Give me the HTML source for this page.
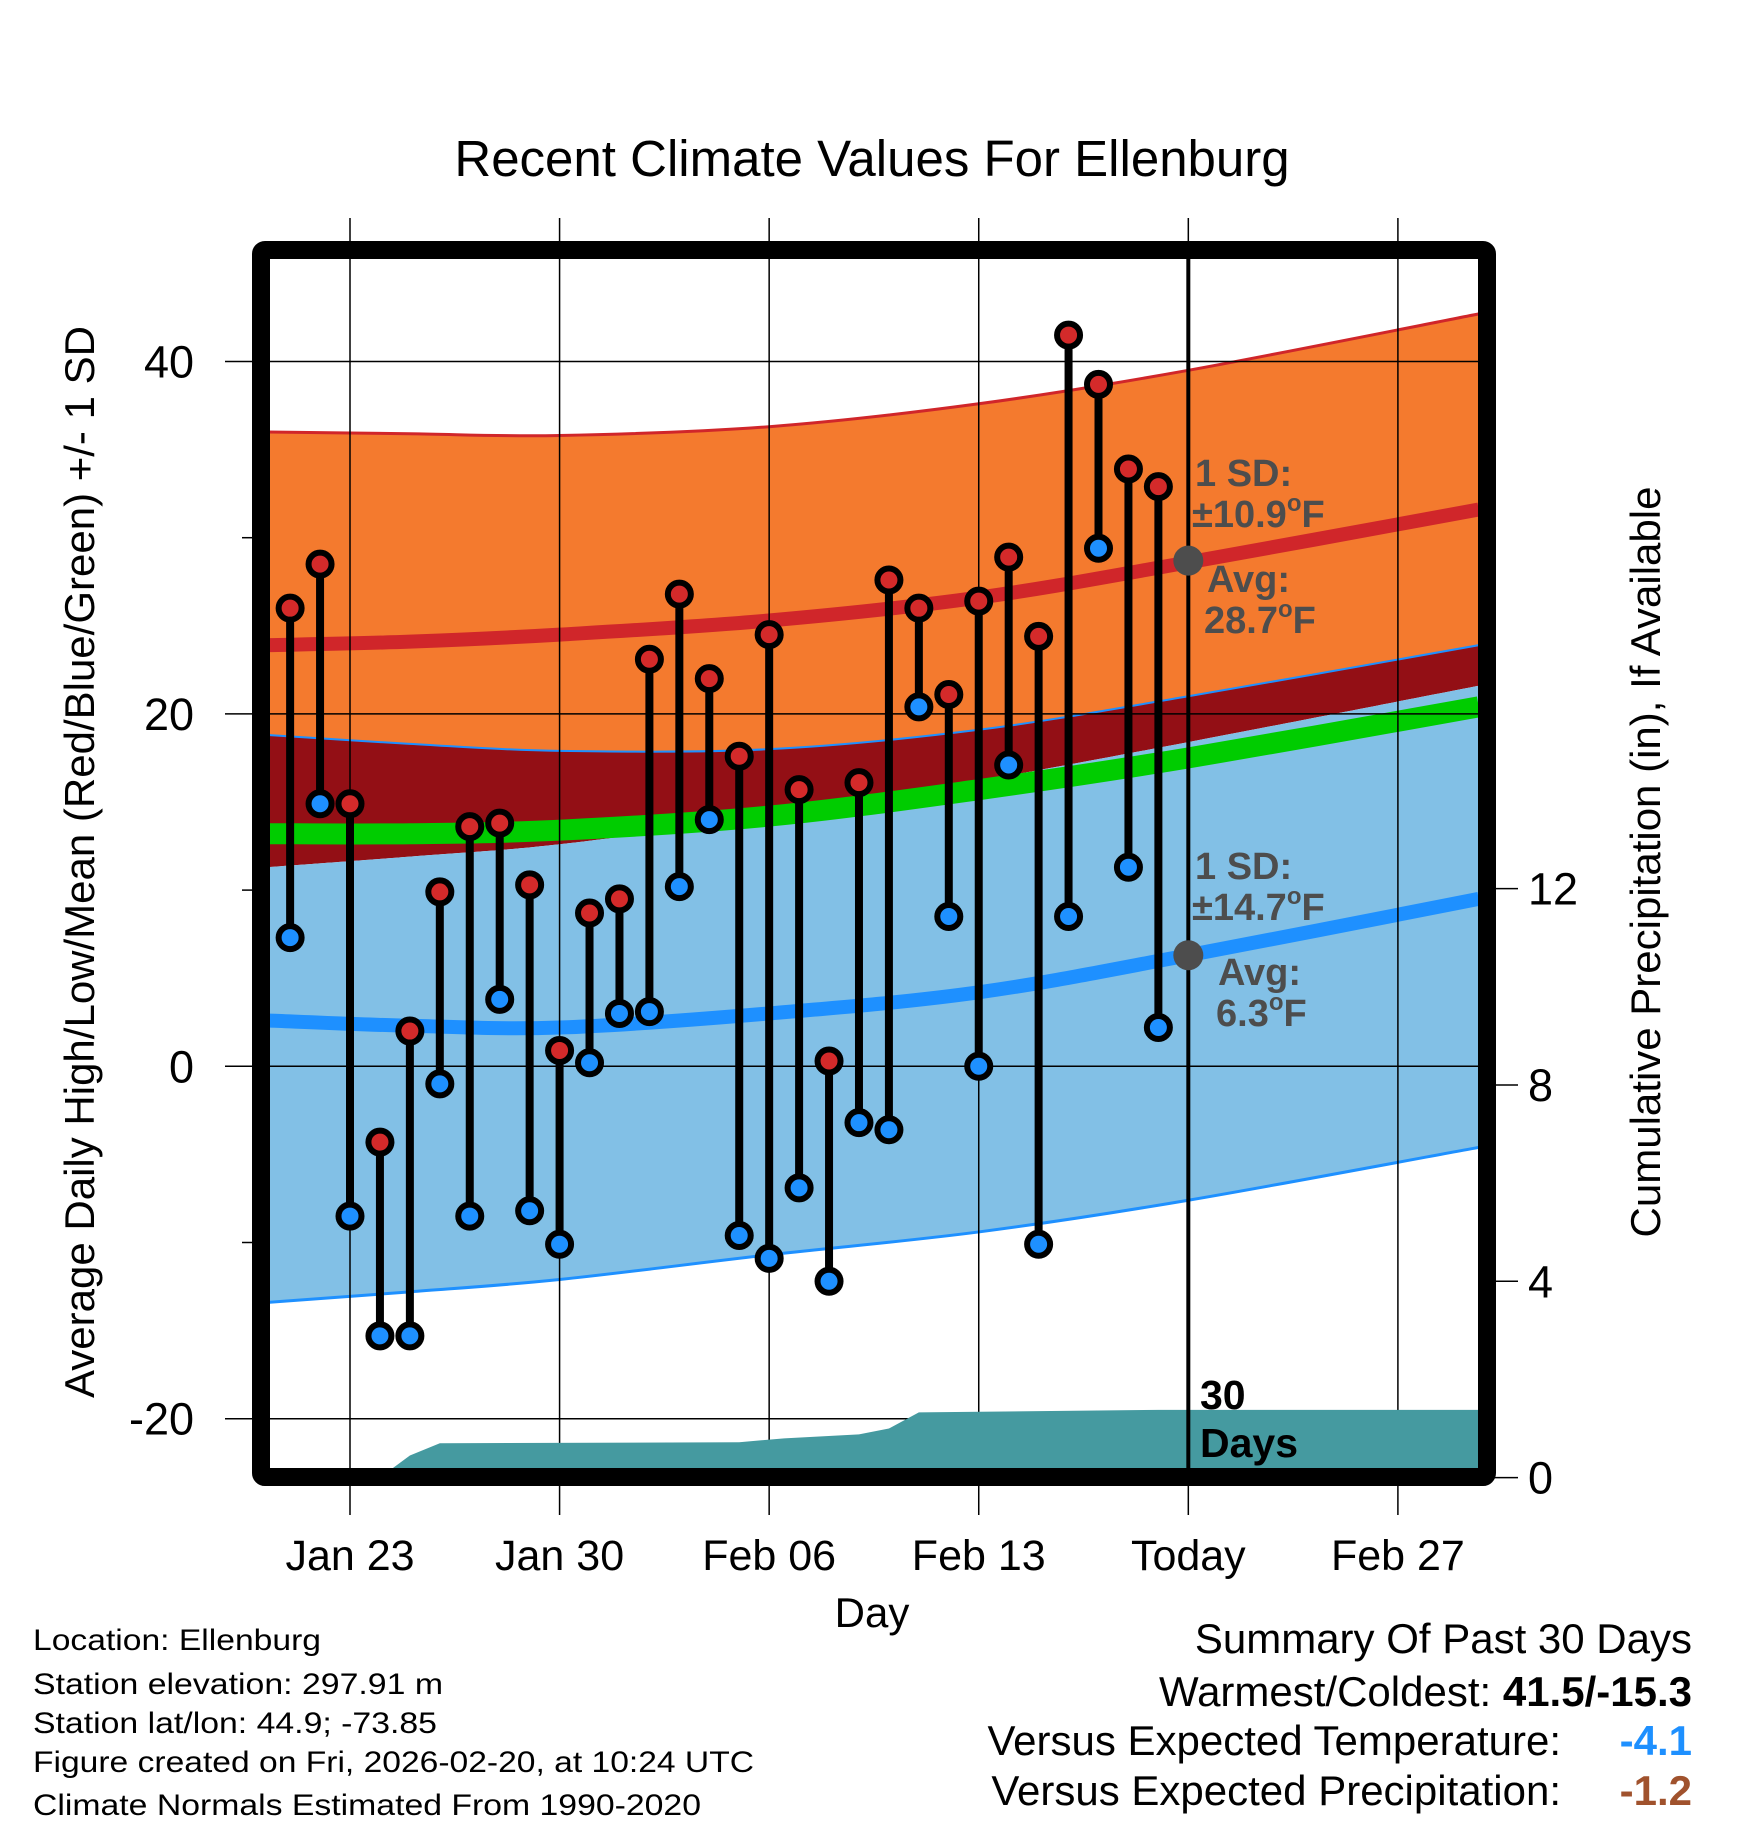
<!DOCTYPE html>
<html><head><meta charset="utf-8"><style>
html,body{margin:0;padding:0;background:#fff;}
svg{display:block;font-family:"Liberation Sans",sans-serif;}
</style></head><body>
<svg id="chart" width="1748" height="1828" viewBox="0 0 1748 1828" xmlns="http://www.w3.org/2000/svg">
<defs><clipPath id="plotclip"><rect x="268" y="259" width="1210" height="1209"/></clipPath></defs>
<rect width="1748" height="1828" fill="#fff"/>
<text x="872" y="176" font-size="51" text-anchor="middle">Recent Climate Values For Ellenburg</text>
<g id="bands" clip-path="url(#plotclip)"></g>
<g id="grid"></g>
<g id="precip" clip-path="url(#plotclip)"></g>
<g id="marks"></g>
<g id="annot" font-weight="bold" fill="#4d4d4d" font-size="38">
<text x="1195" y="486">1 SD:</text>
<text x="1192" y="527">±10.9<tspan font-size="24" dy="-16">o</tspan><tspan dy="16">F</tspan></text>
<text x="1207" y="592">Avg:</text>
<text x="1204" y="633">28.7<tspan font-size="24" dy="-16">o</tspan><tspan dy="16">F</tspan></text>
<text x="1195" y="879">1 SD:</text>
<text x="1192" y="920">±14.7<tspan font-size="24" dy="-16">o</tspan><tspan dy="16">F</tspan></text>
<text x="1218" y="985">Avg:</text>
<text x="1216" y="1026">6.3<tspan font-size="24" dy="-16">o</tspan><tspan dy="16">F</tspan></text>
</g>
<text x="1200" y="1409" font-size="41" font-weight="bold">30</text>
<text x="1200" y="1457" font-size="41" font-weight="bold">Days</text>
<rect x="261" y="250" width="1226" height="1227" fill="none" stroke="#000" stroke-width="18" rx="4"/>
<text transform="translate(94,862) rotate(-90)" font-size="42" text-anchor="middle">Average Daily High/Low/Mean (Red/Blue/Green) +/- 1 SD</text>
<text transform="translate(1660,862) rotate(-90)" font-size="42" text-anchor="middle">Cumulative Precipitation (in), If Available</text>
<text x="872" y="1627" font-size="42" text-anchor="middle">Day</text>
<g font-size="30">
<text x="33" y="1650" textLength="288" lengthAdjust="spacingAndGlyphs">Location: Ellenburg</text>
<text x="33" y="1694" textLength="410" lengthAdjust="spacingAndGlyphs">Station elevation: 297.91 m</text>
<text x="33" y="1733" textLength="404" lengthAdjust="spacingAndGlyphs">Station lat/lon: 44.9; -73.85</text>
<text x="33" y="1772" textLength="721" lengthAdjust="spacingAndGlyphs">Figure created on Fri, 2026-02-20, at 10:24 UTC</text>
<text x="33" y="1815" textLength="668" lengthAdjust="spacingAndGlyphs">Climate Normals Estimated From 1990-2020</text>
</g>
<g font-size="42">
<text x="1692" y="1653" text-anchor="end">Summary Of Past 30 Days</text>
<text x="1692" y="1706" text-anchor="end">Warmest/Coldest: <tspan font-weight="bold">41.5/-15.3</tspan></text>
<text x="1561" y="1755" text-anchor="end">Versus Expected Temperature:</text>
<text x="1692" y="1755" text-anchor="end" font-weight="bold" fill="#1e90ff">-4.1</text>
<text x="1561" y="1805" text-anchor="end">Versus Expected Precipitation:</text>
<text x="1692" y="1805" text-anchor="end" font-weight="bold" fill="#a0522d">-1.2</text>
</g>
</svg>
<script>
// Daily observations (day index 0 = Jan 23)
const obsDays = [-2,-1,0,1,2,3,4,5,6,7,8,9,10,11,12,13,14,15,16,17,18,19,20,21,22,23,24,25,26,27];
const highs = [26.0,28.5,14.9,-4.3,2.0,9.9,13.6,13.8,10.3,0.9,8.7,9.5,23.1,26.8,22.0,17.6,24.5,15.7,0.3,16.1,27.6,26.0,21.1,26.4,28.9,24.4,41.5,38.7,33.9,32.9];
const lows = [7.3,14.9,-8.5,-15.3,-15.3,-1.0,-8.5,3.8,-8.2,-10.1,0.2,3.0,3.1,10.2,14.0,-9.6,-10.9,-6.9,-12.2,-3.2,-3.6,20.4,8.5,0.0,17.1,-10.1,8.5,29.4,11.3,2.2];
// Climate normals sampled at days
const normDays = [-2.74,2,7,14,21,28,37.7];
const hiPlus = [36.0,35.9,35.8,36.3,37.6,39.5,42.7];
const hiAvg = [23.9,24.1,24.5,25.3,26.6,28.6,31.6];
const loPlus = [18.8,18.3,17.9,18.0,19.1,21.0,23.9];
const hiMinus = [11.3,11.9,12.6,14.2,16.2,18.4,21.6];
const meanT = [13.2,13.2,13.4,14.2,15.7,17.5,20.4];
const loAvg = [2.6,2.3,2.2,3.0,4.2,6.3,9.5];
const loMinus = [-13.4,-12.8,-12.1,-10.7,-9.4,-7.6,-4.6];
// Cumulative precipitation
const precipDays = [1,2,3,13,14.5,17,18,19,27,37.7];
const precipVals = [0,0.45,0.7,0.72,0.8,0.88,1.0,1.33,1.38,1.38];
// Ticks
const xTickDays = [0,7,14,21,28,35];
const xTickLabels = ["Jan 23","Jan 30","Feb 06","Feb 13","Today","Feb 27"];
const yTicks = [40,20,0,-20];
const yMinor = [30,10,-10];
const pTicks = [0,4,8,12];
const todayDay = 28;
const todayHi = 28.7, todayLo = 6.3;

const NS="http://www.w3.org/2000/svg";
const xOf=d=>350+d*29.94;
const yOf=v=>1066.3-v*17.62;
const yP=p=>1477.6-p*49.08;
function mk(tag,attrs,parent){const e=document.createElementNS(NS,tag);for(const k in attrs)e.setAttribute(k,attrs[k]);parent.appendChild(e);return e;}
function smooth(xs,ys){let pts=xs.map((x,i)=>[x,ys[i]]);let d="M"+pts[0][0]+","+pts[0][1];
 for(let i=0;i<pts.length-1;i++){const p0=pts[Math.max(0,i-1)],p1=pts[i],p2=pts[i+1],p3=pts[Math.min(pts.length-1,i+2)];
  const c1=[p1[0]+(p2[0]-p0[0])/6,p1[1]+(p2[1]-p0[1])/6],c2=[p2[0]-(p3[0]-p1[0])/6,p2[1]-(p3[1]-p1[1])/6];
  d+=" C"+c1+" "+c2+" "+p2;}return d;}
function revPath(xs,ys){return smooth(xs.slice().reverse(),ys.slice().reverse()).replace(/^M/,"L");}
const X=normDays.map(xOf);
function band(top,bot,fill,name){const d=smooth(X,top.map(yOf))+" "+revPath(X,bot.map(yOf))+" Z";
 const p=mk("path",{d:d,fill:fill},document.getElementById("bands"));
 
 }
function line(vals,stroke,w,name){const p=mk("path",{d:smooth(X,vals.map(yOf)),fill:"none",stroke:stroke,"stroke-width":w},document.getElementById("bands"));
 
 }
band(hiPlus,loPlus,"#f47a2e","high-sd-band");
band(loPlus,hiMinus,"#930f15","overlap-band");
band(hiMinus,loMinus,"#82c0e6","low-sd-band");
line(hiPlus,"#d0262a",3,"high-plus-sd-line");
line(loPlus,"#1e90ff",2,"low-plus-sd-line");
line(loMinus,"#1e90ff",3,"low-minus-sd-line");
line(meanT,"#00cc00",21,"mean-line");
line(hiAvg,"#d0262a",14,"avg-high-line");
line(loAvg,"#1e90ff",14,"avg-low-line");

const g=document.getElementById("grid");
xTickDays.forEach((d,i)=>{const x=xOf(d);
 const l=mk("line",{x1:x,y1:218,x2:x,y2:1515,stroke:"#000","stroke-width":1.5},g);
 
 
 const t=mk("text",{x:x,y:1570,"font-size":43,"text-anchor":"middle"},g);t.textContent=xTickLabels[i];
 
 });
yTicks.forEach(v=>{const y=yOf(v);
 const l=mk("line",{x1:225,y1:y,x2:1478,y2:y,stroke:"#000","stroke-width":1.5},g);
 
 
 const t=mk("text",{x:194,y:y+16,"font-size":45,"text-anchor":"end"},g);t.textContent=v;
 
 });
yMinor.forEach(v=>{const y=yOf(v);
 const l=mk("line",{x1:242,y1:y,x2:256,y2:y,stroke:"#000","stroke-width":1.5},g);
 
 });
pTicks.forEach(p=>{const y=yP(p);
 const l=mk("line",{x1:1490,y1:y,x2:1518,y2:y,stroke:"#000","stroke-width":1.5},g);
 
 
 const t=mk("text",{x:1528,y:y+16,"font-size":45},g);t.textContent=p;
 
 });

const pg=document.getElementById("precip");
let pd="M"+xOf(precipDays[0])+","+yP(0);
precipDays.forEach((d,i)=>{pd+=" L"+xOf(d)+","+yP(precipVals[i]);});
pd+=" L"+xOf(precipDays[precipDays.length-1])+","+yP(0)+" Z";
const pa=mk("path",{d:pd,fill:"#459aa0"},pg);



const m=document.getElementById("marks");
const tl=mk("line",{x1:xOf(todayDay),y1:259,x2:xOf(todayDay),y2:1468,stroke:"#000","stroke-width":4},m);


[todayHi,todayLo].forEach(v=>{const c=mk("circle",{cx:xOf(todayDay),cy:yOf(v),r:15,fill:"#4d4d4d"},m);
 
 });
obsDays.forEach((d,i)=>{const x=xOf(d);
 const s=mk("line",{x1:x,y1:yOf(highs[i]),x2:x,y2:yOf(lows[i]),stroke:"#000","stroke-width":8},m);
 
 });
obsDays.forEach((d,i)=>{const x=xOf(d);
 const h=mk("circle",{cx:x,cy:yOf(highs[i]),r:11.5,fill:"#d42a2a",stroke:"#000","stroke-width":6},m);
 
 
 const l=mk("circle",{cx:x,cy:yOf(lows[i]),r:11.5,fill:"#1e90ff",stroke:"#000","stroke-width":6},m);
 
 });
</script>
</body></html>
